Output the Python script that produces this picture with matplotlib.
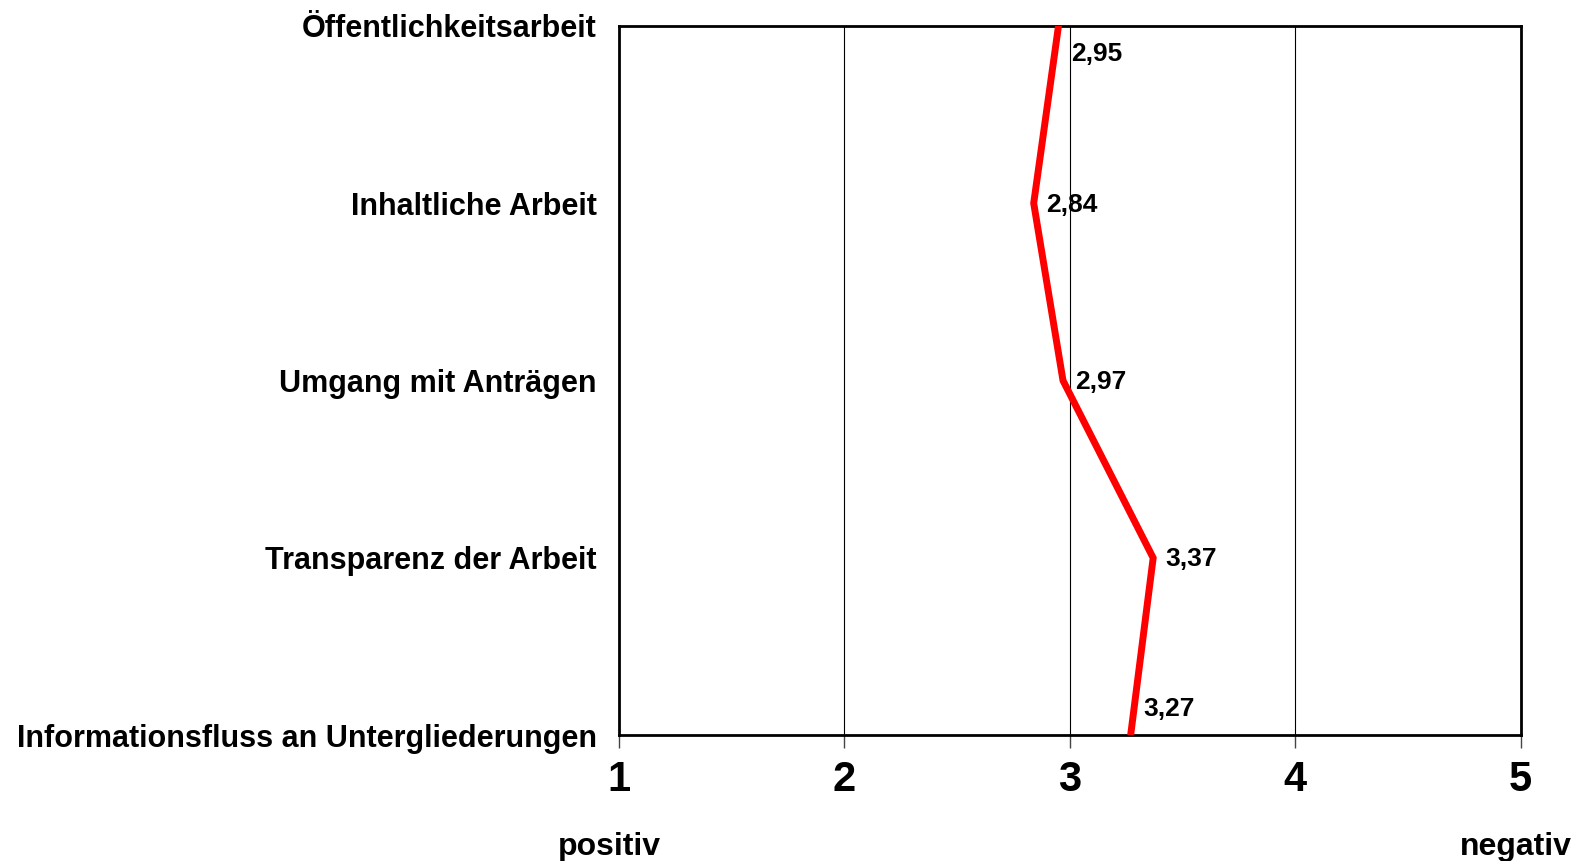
import matplotlib.pyplot as plt

# -------- Data --------
categories = ["Öffentlichkeitsarbeit", "Inhaltliche Arbeit", "Umgang mit Anträgen",
              "Transparenz der Arbeit", "Informationsfluss an Untergliederungen"]
values = [2.95, 2.84, 2.97, 3.37, 3.27]
value_labels = ["2,95", "2,84", "2,97", "3,37", "3,27"]
x_ticks = [1, 2, 3, 4, 5]

plt.rcParams['font.family'] = ['Liberation Sans', 'DejaVu Sans']
plt.rcParams['font.weight'] = 'bold'

fig = plt.figure(figsize=(15.79, 8.61), dpi=100)
ax = fig.add_axes([0.392, 0.146, 0.571, 0.824])

ypos = list(range(len(categories)))
ax.plot(values, ypos, color='red', linewidth=5, solid_joinstyle='miter', clip_on=True, zorder=3)

# label offsets in points (right of the point, nudged inward at the ends)
offsets = [(9, -20), (9, -1), (9, -1), (9, -1), (9, 19)]
for v, y, lab, off in zip(values, ypos, value_labels, offsets):
    ax.annotate(lab, (v, y), xytext=off, textcoords='offset points',
                ha='left', va='center', fontsize=19, fontweight='bold')

ax.set_xlim(1, 5)
ax.set_ylim(len(categories) - 1, 0)
ax.set_xticks(x_ticks)
ax.set_xticklabels([str(t) for t in x_ticks], fontsize=30, fontweight='bold')
ax.set_yticks(ypos)
ax.set_yticklabels(categories, fontsize=22, fontweight='bold')
ax.tick_params(axis='y', length=0, pad=16)
ax.tick_params(axis='x', length=9, width=1, direction='out', pad=9, color='#444444')
ax.grid(axis='x', color='black', linewidth=0.8)
for s in ax.spines.values():
    s.set_linewidth(2)

fig.text(0.386, 0.016, "positiv", ha='center', va='center', fontsize=23, fontweight='bold')
fig.text(0.960, 0.016, "negativ", ha='center', va='center', fontsize=23, fontweight='bold')

plt.savefig("out.png")
